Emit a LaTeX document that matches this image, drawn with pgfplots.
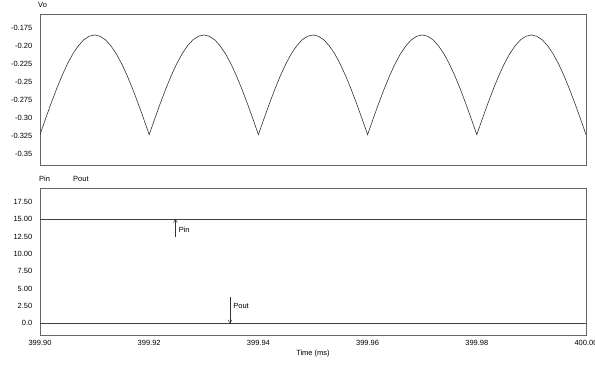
\documentclass[border=0pt]{standalone}
\usepackage{fontspec}
\setmainfont{Liberation Sans}
\usepackage{pgfplots}
\usepackage{pgfplotstable}
\usetikzlibrary{arrows.meta}
\pgfplotsset{compat=1.18}
% t = microseconds after 399.900 ms
\pgfplotstableread{
t v
0 -0.3230
1 -0.3014
2 -0.2803
3 -0.2604
4 -0.2419
5 -0.2254
6 -0.2114
7 -0.2002
8 -0.1918
9 -0.1868
10 -0.1850
11 -0.1868
12 -0.1918
13 -0.2002
14 -0.2114
15 -0.2254
16 -0.2419
17 -0.2604
18 -0.2803
19 -0.3014
20 -0.3230
21 -0.3014
22 -0.2803
23 -0.2604
24 -0.2419
25 -0.2254
26 -0.2114
27 -0.2002
28 -0.1918
29 -0.1868
30 -0.1850
31 -0.1868
32 -0.1918
33 -0.2002
34 -0.2114
35 -0.2254
36 -0.2419
37 -0.2604
38 -0.2803
39 -0.3014
40 -0.3230
41 -0.3014
42 -0.2803
43 -0.2604
44 -0.2419
45 -0.2254
46 -0.2114
47 -0.2002
48 -0.1918
49 -0.1868
50 -0.1850
51 -0.1868
52 -0.1918
53 -0.2002
54 -0.2114
55 -0.2254
56 -0.2419
57 -0.2604
58 -0.2803
59 -0.3014
60 -0.3230
61 -0.3014
62 -0.2803
63 -0.2604
64 -0.2419
65 -0.2254
66 -0.2114
67 -0.2002
68 -0.1918
69 -0.1868
70 -0.1850
71 -0.1868
72 -0.1918
73 -0.2002
74 -0.2114
75 -0.2254
76 -0.2419
77 -0.2604
78 -0.2803
79 -0.3014
80 -0.3230
81 -0.3014
82 -0.2803
83 -0.2604
84 -0.2419
85 -0.2254
86 -0.2114
87 -0.2002
88 -0.1918
89 -0.1868
90 -0.1850
91 -0.1868
92 -0.1918
93 -0.2002
94 -0.2114
95 -0.2254
96 -0.2419
97 -0.2604
98 -0.2803
99 -0.3014
100 -0.3230
}\votable
\pgfplotstableread{
t p
0 15
100 15
}\pintable
\pgfplotstableread{
t p
0 0
100 0
}\pouttable
\begin{document}
\fontsize{7.5}{9}\selectfont
\begin{tikzpicture}
\path[use as bounding box] (0,0) rectangle (595pt,368pt);
\pgfplotsset{
  every axis/.append style={
    scale only axis,
    width=546pt,
    xmin=0, xmax=100,
    axis line style={black!60},
    major tick length=0pt,
    tick style={draw=none},
    ticklabel style={font=\fontsize{7.5}{9}\selectfont},
    yticklabel style={xshift=-5pt},
    xtick={0,20,40,60,80,100},
    xticklabels={399.90,399.92,399.94,399.96,399.98,400.00},
  }
}
\begin{axis}[
  at={(40pt,203pt)}, anchor=south west,
  height=151pt,
  ymin=-0.365, ymax=-0.156,
  ytick={-0.35,-0.325,-0.30,-0.275,-0.25,-0.225,-0.20,-0.175},
  yticklabels={-0.35,-0.325,-0.30,-0.275,-0.25,-0.225,-0.20,-0.175},
  xticklabels={},
]
\addplot[black!80, line width=0.6pt, mark=none] table[x=t,y=v] {\votable};
\end{axis}
\begin{axis}[
  at={(40pt,33pt)}, anchor=south west,
  height=147pt,
  ymin=-1.68, ymax=19.47,
  ytick={0,2.5,5,7.5,10,12.5,15,17.5},
  yticklabels={0.0,2.50,5.00,7.50,10.00,12.50,15.00,17.50},
  xticklabel style={yshift=-3pt},
]
\addplot[black!75, line width=0.6pt, mark=none] table[x=t,y=p] {\pintable};
\addplot[black!75, line width=0.6pt, mark=none] table[x=t,y=p] {\pouttable};
\draw[-{Straight Barb[length=3pt,width=4pt]}, black!80, line width=0.5pt] (axis cs:24.8,12.4) -- (axis cs:24.8,15);
\node[anchor=west, inner sep=1pt] at (axis cs:25.2,13.4) {Pin};
\draw[-{Straight Barb[length=3pt,width=4pt]}, black!80, line width=0.5pt] (axis cs:34.8,3.8) -- (axis cs:34.8,0);
\node[anchor=west, inner sep=1pt] at (axis cs:35.2,2.5) {Pout};
\end{axis}
\node[anchor=west, inner sep=0pt] at (38pt,363pt) {Vo};
\node[anchor=west, inner sep=0pt] at (39pt,189pt) {Pin};
\node[anchor=west, inner sep=0pt] at (73pt,189pt) {Pout};
\node[inner sep=0pt] at (313pt,14pt) {Time (ms)};
\end{tikzpicture}
\end{document}
